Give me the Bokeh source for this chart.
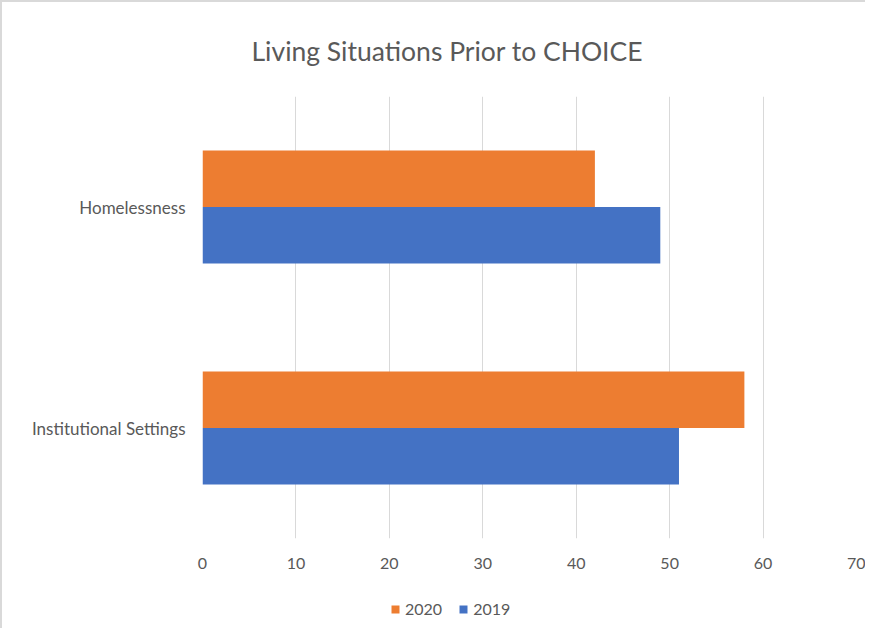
from bokeh.plotting import figure
from bokeh.layouts import column
from bokeh.models import ColumnDataSource, FactorRange, Range1d, Legend, LegendItem, FixedTicker
from bokeh.transform import dodge
from bokeh.embed import file_html
from bokeh.resources import INLINE

categories = ["Institutional Settings", "Homelessness"]
series_names = ["2020", "2019"]
values_2020 = [58, 42]
values_2019 = [51, 49]
x_ticks = [0, 10, 20, 30, 40, 50, 60, 70]
title_text = "Living Situations Prior to CHOICE"

FONT = "Lato"
TXT = "#595959"
C2020 = "#ED7D31"
C2019 = "#4472C4"

src = ColumnDataSource(dict(cat=categories, v2020=values_2020, v2019=values_2019))

p = figure(width=863, height=590, y_range=FactorRange(*categories), x_range=Range1d(0, 70),
           output_backend="svg", toolbar_location=None, title=title_text,
           min_border_left=200, min_border_right=9, min_border_top=91, min_border_bottom=54)
p.outline_line_color = None
p.title.align = "left"
p.title.offset = 49
p.title.standoff = 60
p.title.text_font = FONT
p.title.text_font_size = "26.5px"
p.title.text_font_style = "normal"
p.title.text_color = TXT

r20 = p.hbar(y=dodge("cat", 0.128, range=p.y_range), right="v2020", height=0.256, source=src,
             fill_color=C2020, line_color=None)
r19 = p.hbar(y=dodge("cat", -0.128, range=p.y_range), right="v2019", height=0.256, source=src,
             fill_color=C2019, line_color=None)

p.xaxis.ticker = FixedTicker(ticks=x_ticks)
for ax in (p.xaxis[0], p.yaxis[0]):
    ax.axis_line_color = None
    ax.major_tick_line_color = None
    ax.minor_tick_line_color = None
    ax.major_label_text_font = FONT
    ax.major_label_text_color = TXT
p.xaxis.major_label_text_font_size = "16px"
p.yaxis.major_label_text_font_size = "17px"
p.xaxis.major_label_standoff = 13
p.yaxis.major_label_standoff = 11
p.ygrid.grid_line_color = None
p.xgrid.grid_line_color = "#d9d9d9"
p.xgrid.grid_line_width = 1

# legend strip below the chart (key swatches only; kept outside the visible range)
lg = figure(width=863, height=36, output_backend="svg", toolbar_location=None,
            x_axis_type=None, y_axis_type=None, min_border=0,
            x_range=Range1d(0, 1), y_range=Range1d(0, 1))
lg.outline_line_color = None
key_src = ColumnDataSource(dict(x=[-10], y=[-10]))
l20 = lg.rect(x="x", y="y", width=1, height=1, source=key_src, fill_color=C2020, line_color=None)
l19 = lg.rect(x="x", y="y", width=1, height=1, source=key_src, fill_color=C2019, line_color=None)
legend = Legend(items=[LegendItem(label=series_names[0], renderers=[l20]),
                       LegendItem(label=series_names[1], renderers=[l19])],
                orientation="horizontal", location=(188, 10),
                glyph_width=10, glyph_height=10, label_text_font=FONT,
                label_text_font_size="16px", label_text_color=TXT,
                spacing=16, label_standoff=5, border_line_color=None,
                background_fill_alpha=0, padding=0, margin=0)
lg.add_layout(legend)

layout = column(p, lg, spacing=0)
layout.styles = {"border-top": "2px solid #d9d9d9", "border-left": "2px solid #d9d9d9"}
open("out.html", "w").write(file_html(layout, INLINE))
